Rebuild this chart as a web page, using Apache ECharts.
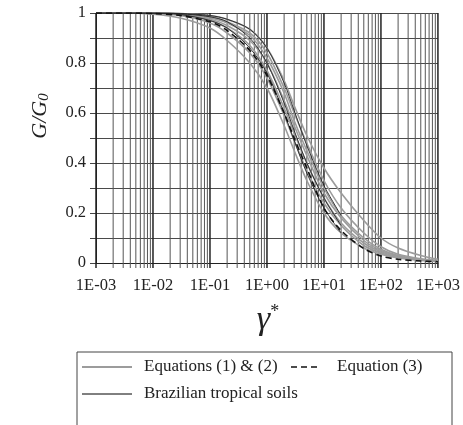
<!DOCTYPE html>
<html><head><meta charset="utf-8">
<script src="https://cdn.jsdelivr.net/npm/echarts@6/dist/echarts.min.js"></script>
<style>html,body{margin:0;padding:0;background:#fff}#c{width:463px;height:425px}</style>
</head><body><div id="c"></div>
<script>
// shear strain gamma* sample points
const gammaPts = [0.001, 0.003, 0.01, 0.03, 0.1, 0.2, 0.5, 1, 2, 3, 5, 10, 20, 50, 100, 200, 500, 1000];
// Equations (1) & (2) curves (G/G0)
const eq12_1 = [1, 1, 0.995, 0.98, 0.94, 0.89, 0.80, 0.70, 0.55, 0.45, 0.33, 0.20, 0.12, 0.06, 0.035, 0.02, 0.01, 0.006];
const eq12_2 = [1, 1, 0.998, 0.99, 0.96, 0.92, 0.84, 0.74, 0.59, 0.49, 0.37, 0.24, 0.15, 0.07, 0.04, 0.022, 0.012, 0.007];
const eq12_3 = [1, 1, 0.999, 0.993, 0.97, 0.94, 0.87, 0.77, 0.62, 0.52, 0.40, 0.26, 0.16, 0.08, 0.045, 0.025, 0.013, 0.008];
const eq12_4 = [1, 1, 1, 0.995, 0.975, 0.95, 0.89, 0.80, 0.65, 0.55, 0.43, 0.28, 0.18, 0.09, 0.05, 0.028, 0.014, 0.008];
const eq12_5 = [1, 1, 1, 0.997, 0.98, 0.96, 0.91, 0.82, 0.68, 0.57, 0.45, 0.30, 0.19, 0.10, 0.055, 0.03, 0.015, 0.009];
const eq12_6 = [1, 1, 1, 0.998, 0.985, 0.965, 0.92, 0.84, 0.70, 0.60, 0.48, 0.33, 0.22, 0.12, 0.065, 0.035, 0.017, 0.01];
const eq12_7 = [1, 1, 1, 0.998, 0.99, 0.975, 0.935, 0.86, 0.73, 0.63, 0.51, 0.38, 0.28, 0.17, 0.10, 0.06, 0.03, 0.015];
// Equation (3)
const eq3 = [1, 1, 0.998, 0.99, 0.965, 0.93, 0.85, 0.75, 0.60, 0.50, 0.38, 0.22, 0.13, 0.058, 0.028, 0.015, 0.008, 0.005];
// Brazilian tropical soils
const bts_1 = [1, 1, 1, 0.998, 0.99, 0.975, 0.935, 0.86, 0.72, 0.61, 0.47, 0.31, 0.19];
const bts_2 = [1, 1, 0.999, 0.994, 0.97, 0.94, 0.86, 0.76, 0.60, 0.49, 0.36, 0.22, 0.12];
const bts_3 = [1, 1, 1, 0.997, 0.985, 0.965, 0.90, 0.80, 0.64, 0.53, 0.40, 0.26, 0.15];
// tick labels
const xTickLabels = ['1E-03', '1E-02', '1E-01', '1E+00', '1E+01', '1E+02', '1E+03'];
const yTickLabels = ['0', '0.2', '0.4', '0.6', '0.8', '1'];

const pairs = arr => arr.map((v, i) => [gammaPts[i], v]);
const vLines = [];
for (let e = -3; e <= 2; e++) for (let m = 1; m <= 9; m++) vLines.push([m * Math.pow(10, e), m === 1 ? 1 : 0]);
vLines.push([1000, 1]);

const serif = '"Liberation Serif","DejaVu Serif",serif';
const grayLine = d => ({type: 'line', data: pairs(d), showSymbol: false, smooth: 0.3, z: 3,
  lineStyle: {color: '#9c9c9c', width: 1.6}});
const blackLine = d => ({type: 'line', data: pairs(d), showSymbol: false, smooth: 0.3, z: 5,
  lineStyle: {color: '#222', width: 0.9}});

const chart = echarts.init(document.getElementById('c'), null, {renderer: 'canvas'});
chart.setOption({
  animation: false,
  backgroundColor: '#fff',
  grid: {left: 96, right: 21, top: 13, bottom: 162},
  xAxis: {type: 'log', logBase: 10, min: 0.001, max: 1000,
    axisLine: {lineStyle: {color: '#222', width: 1}},
    axisTick: {show: false}, splitLine: {show: false},
    axisLabel: {margin: 14, color: '#222', fontFamily: serif, fontSize: 16.5,
      formatter: v => xTickLabels[Math.round(Math.log10(v)) + 3]}},
  yAxis: {type: 'value', min: 0, max: 1, interval: 0.2,
    axisLine: {show: true, lineStyle: {color: '#222', width: 1}},
    axisTick: {show: true, length: 6, lineStyle: {color: '#444'}},
    minorTick: {show: true, splitNumber: 2, length: 6, lineStyle: {color: '#444'}},
    splitLine: {show: true, lineStyle: {color: '#4a4a4a', width: 1}},
    minorSplitLine: {show: true, lineStyle: {color: '#4a4a4a', width: 1}},
    axisLabel: {margin: 10, color: '#222', fontFamily: serif, fontSize: 16.5,
      formatter: v => yTickLabels[Math.round(v * 5)]}},
  series: [
    {type: 'custom', data: vLines, z: 1, silent: true,
      renderItem: (params, api) => {
        const v = api.value(0), major = api.value(1);
        const top = api.coord([v, 1]), bot = api.coord([v, 0]);
        return {type: 'line', shape: {x1: top[0], y1: top[1], x2: bot[0], y2: bot[1] + 5},
          style: {stroke: major ? '#222' : '#555', lineWidth: major ? 1.5 : 1}};
      }},
    grayLine(eq12_1), grayLine(eq12_2), grayLine(eq12_3), grayLine(eq12_4),
    grayLine(eq12_5), grayLine(eq12_6), grayLine(eq12_7),
    {type: 'line', data: pairs(eq3), showSymbol: false, smooth: 0.3, z: 6,
      lineStyle: {color: '#111', width: 1.6, type: [6, 4]}},
    blackLine(bts_1), blackLine(bts_2), blackLine(bts_3)
  ],
  graphic: [
    {type: 'text', x: 40, y: 116, rotation: Math.PI / 2,
      style: {text: '{a|G/G}{b|0}', align: 'center', verticalAlign: 'middle',
        rich: {a: {fontFamily: serif, fontStyle: 'italic', fontSize: 22, fill: '#222'},
               b: {fontFamily: serif, fontStyle: 'italic', fontSize: 15, fill: '#222', padding: [9, 0, 0, 0]}}}},
    {type: 'text', x: 268, y: 320,
      style: {text: '{a|γ}{b|*}', align: 'center', verticalAlign: 'middle',
        rich: {a: {fontFamily: serif, fontStyle: 'italic', fontSize: 34, fill: '#222'},
               b: {fontFamily: serif, fontSize: 18, fill: '#222', padding: [0, 0, 16, 0]}}}},
    {type: 'rect', shape: {x: 77, y: 352, width: 375, height: 100},
      style: {fill: 'none', stroke: '#444', lineWidth: 1}},
    {type: 'line', shape: {x1: 82, y1: 367, x2: 132, y2: 367}, style: {stroke: '#9c9c9c', lineWidth: 1.8}},
    {type: 'text', x: 144, y: 367, style: {text: 'Equations (1) & (2)', verticalAlign: 'middle',
      fontFamily: serif, fontSize: 17, fill: '#222'}},
    {type: 'line', shape: {x1: 291, y1: 367, x2: 321, y2: 367}, style: {stroke: '#111', lineWidth: 1.6, lineDash: [6, 4]}},
    {type: 'text', x: 337, y: 367, style: {text: 'Equation (3)', verticalAlign: 'middle',
      fontFamily: serif, fontSize: 17, fill: '#222'}},
    {type: 'line', shape: {x1: 82, y1: 394, x2: 132, y2: 394}, style: {stroke: '#000', lineWidth: 1}},
    {type: 'text', x: 144, y: 394, style: {text: 'Brazilian tropical soils', verticalAlign: 'middle',
      fontFamily: serif, fontSize: 17, fill: '#222'}}
  ]
});
</script></body></html>
